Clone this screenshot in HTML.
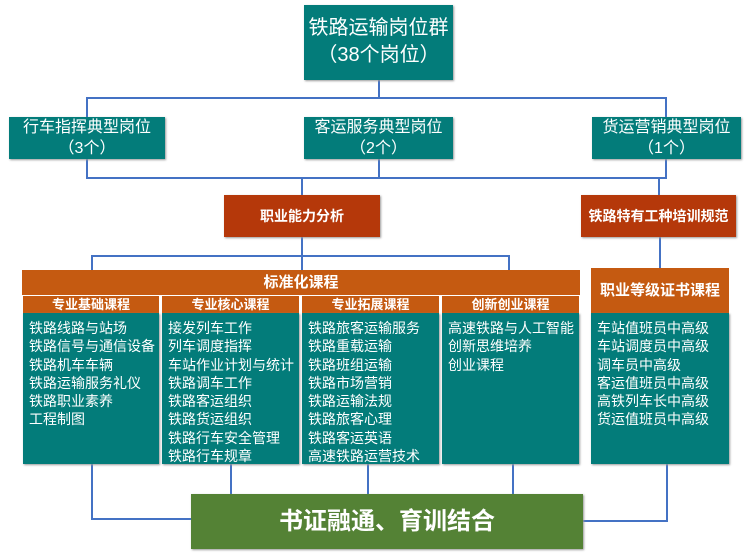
<!DOCTYPE html>
<html><head><meta charset="utf-8"><style>
body{margin:0;width:750px;height:560px;background:#fff;position:relative;overflow:hidden;font-family:"Liberation Sans","Noto Sans CJK SC",sans-serif}
.b{position:absolute;box-sizing:border-box;color:#fff;text-align:center}
.t{background:#037c7a;box-shadow:1px 1px 2px #999}
.l{position:absolute;background:#4472c4}
.h{position:absolute;height:2px;background:#4472c4}
.v{position:absolute;width:2px;background:#4472c4}
.col{position:absolute;top:313px;height:151px;background:#037c7a;color:#fff;font-size:14px;line-height:18.3px;padding:6px 0 0 6px;box-sizing:border-box;white-space:nowrap;box-shadow:1px 1px 2px #999}
.sh{position:absolute;top:296px;height:17px;background:#c55a11;color:#fff;font-size:13px;font-weight:bold;text-align:center;line-height:17px}
</style></head><body>
<div class="v" style="left:378px;top:80px;height:18px"></div>
<div class="h" style="left:87px;top:97px;width:580px"></div>
<div class="v" style="left:86px;top:97px;height:20px"></div>
<div class="v" style="left:665px;top:97px;height:20px"></div>
<div class="v" style="left:86px;top:159px;height:20px"></div>
<div class="v" style="left:378px;top:159px;height:20px"></div>
<div class="v" style="left:665px;top:159px;height:20px"></div>
<div class="h" style="left:87px;top:177px;width:580px"></div>
<div class="v" style="left:301px;top:177px;height:18px"></div>
<div class="v" style="left:658px;top:177px;height:18px"></div>
<div class="v" style="left:301px;top:237px;height:33px"></div>
<div class="h" style="left:91px;top:255px;width:418px"></div>
<div class="v" style="left:91px;top:255px;height:15px"></div>
<div class="v" style="left:508px;top:255px;height:15px"></div>
<div class="v" style="left:659px;top:237px;height:33px"></div>
<div class="v" style="left:91px;top:464px;height:56px"></div>
<div class="h" style="left:91px;top:518px;width:100px"></div>
<div class="v" style="left:230px;top:464px;height:30px"></div>
<div class="v" style="left:367px;top:464px;height:30px"></div>
<div class="v" style="left:512px;top:464px;height:30px"></div>
<div class="v" style="left:666px;top:464px;height:58px"></div>
<div class="h" style="left:583px;top:520px;width:85px"></div>

<div class="b t" style="left:304px;top:5px;width:149px;height:75px;font-size:20px;line-height:27px;padding-top:10px">铁路运输岗位群<br>（38个岗位）</div>
<div class="b t" style="left:9px;top:117px;width:156px;height:42px;font-size:16px;line-height:21px">行车指挥典型岗位<br>（3个）</div>
<div class="b t" style="left:304px;top:117px;width:149px;height:42px;font-size:16px;line-height:21px">客运服务典型岗位<br>（2个）</div>
<div class="b t" style="left:592px;top:117px;width:149px;height:42px;font-size:16px;line-height:21px">货运营销典型岗位<br>（1个）</div>
<div class="b" style="left:224px;top:195px;width:156px;height:42px;background:#b5380a;font-size:14px;font-weight:bold;line-height:42px;box-shadow:1px 1px 2px #999">职业能力分析</div>
<div class="b" style="left:581px;top:195px;width:155px;height:42px;background:#b5380a;font-size:14px;font-weight:bold;line-height:42px;box-shadow:1px 1px 2px #999">铁路特有工种培训规范</div>

<div class="b" style="left:22px;top:270px;width:558px;height:25px;background:#c55a11;font-size:15px;font-weight:bold;line-height:25px">标准化课程</div>
<div class="sh" style="left:23px;width:136px">专业基础课程</div>
<div class="sh" style="left:162px;width:137px">专业核心课程</div>
<div class="sh" style="left:302px;width:137px">专业拓展课程</div>
<div class="sh" style="left:442px;width:137px">创新创业课程</div>
<div class="col" style="left:23px;width:136px">铁路线路与站场<br>铁路信号与通信设备<br>铁路机车车辆<br>铁路运输服务礼仪<br>铁路职业素养<br>工程制图</div>
<div class="col" style="left:162px;width:137px">接发列车工作<br>列车调度指挥<br>车站作业计划与统计<br>铁路调车工作<br>铁路客运组织<br>铁路货运组织<br>铁路行车安全管理<br>铁路行车规章</div>
<div class="col" style="left:302px;width:137px">铁路旅客运输服务<br>铁路重载运输<br>铁路班组运输<br>铁路市场营销<br>铁路运输法规<br>铁路旅客心理<br>铁路客运英语<br>高速铁路运营技术</div>
<div class="col" style="left:442px;width:137px">高速铁路与人工智能<br>创新思维培养<br>创业课程</div>
<div class="b" style="left:591px;top:268px;width:138px;height:45px;background:#c55a11;font-size:15px;font-weight:bold;line-height:45px">职业等级证书课程</div>
<div class="col" style="left:591px;width:138px;padding-left:6px">车站值班员中高级<br>车站调度员中高级<br>调车员中高级<br>客运值班员中高级<br>高铁列车长中高级<br>货运值班员中高级</div>

<div class="b" style="left:191px;top:494px;width:392px;height:55px;background:#548235;font-size:24px;font-weight:bold;line-height:55px;box-shadow:1px 1px 2px #999">书证融通、育训结合</div>
</body></html>
